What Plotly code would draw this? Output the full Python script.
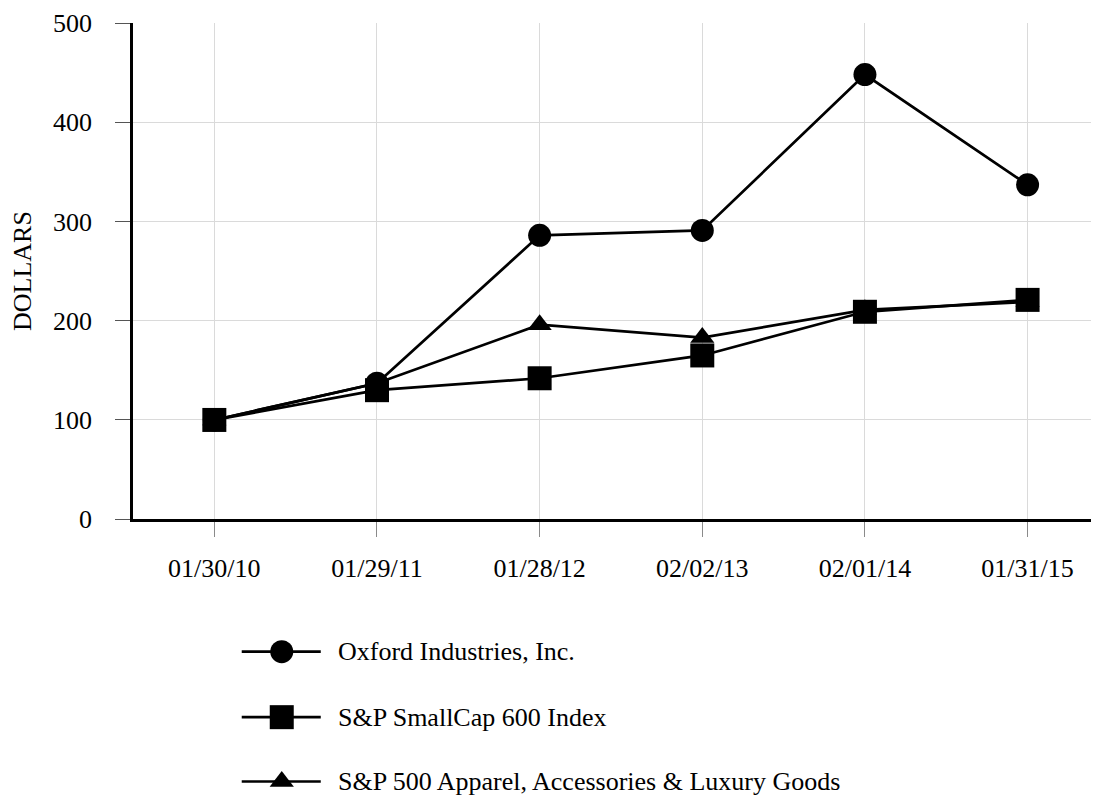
import plotly.graph_objects as go

dates = ["01/30/10", "01/29/11", "01/28/12", "02/02/13", "02/01/14", "01/31/15"]
oxford = [100, 137, 286, 291, 448, 337]
smallcap = [100, 130, 142, 165, 209, 221]
apparel = [100, 137, 196, 183, 211, 219]
series_names = ["Oxford Industries, Inc.", "S&P SmallCap 600 Index",
                "S&P 500 Apparel, Accessories & Luxury Goods"]
y_ticks = [0, 100, 200, 300, 400, 500]

# page body has an 8px default margin
OFF = 8
W, H = 1099 - OFF, 797 - OFF
ML, MT = 133.3 - OFF, 23.3 - OFF
PLOT_BOTTOM = 519.3 - OFF
FONT = "Liberation Serif"

symbols = {series_names[0]: ("circle", 23),
           series_names[1]: ("square", 24),
           series_names[2]: ("triangle-up", 21)}
values = {series_names[0]: oxford, series_names[1]: smallcap, series_names[2]: apparel}

fig = go.Figure()
# draw order: Oxford, Apparel, SmallCap (on top)
for name in [series_names[0], series_names[2], series_names[1]]:
    sym, size = symbols[name]
    fig.add_trace(go.Scatter(
        x=dates, y=values[name], mode="lines+markers", name=name,
        line=dict(color="black", width=2.7),
        marker=dict(symbol=sym, size=size, color="black"),
        showlegend=False, cliponaxis=False,
    ))

# custom legend on a hidden helper axis (pixel-like units)
row_px = [651.7 - OFF, 717.2 - OFF, 781.5 - OFF]
line_x = [242 - OFF, 321 - OFF]
mark_x = 282 - OFF
text_x = 336 - OFF
for i, name in enumerate(series_names):
    sym, size = symbols[name]
    fig.add_trace(go.Scatter(
        x=line_x, y=[row_px[i]] * 2, mode="lines", xaxis="x2", yaxis="y2",
        line=dict(color="black", width=2.7), showlegend=False, hoverinfo="skip",
        cliponaxis=False))
    fig.add_trace(go.Scatter(
        x=[mark_x], y=[row_px[i]], mode="markers", xaxis="x2", yaxis="y2",
        marker=dict(symbol=sym, size=size, color="black"),
        showlegend=False, hoverinfo="skip", cliponaxis=False))
    fig.add_annotation(x=text_x, y=row_px[i], xref="x2", yref="y2", text=name,
                       showarrow=False, xanchor="left", yanchor="middle",
                       font=dict(family=FONT, size=26, color="black"))

plot_h = H - MT
main_bottom = (H - PLOT_BOTTOM) / plot_h

span_px = W - ML
step_x = 162.6
x_right = -0.5 + span_px / step_x

fig.update_layout(
    width=W, height=H, autosize=False,
    margin=dict(l=ML, r=0, t=MT, b=0, pad=0, autoexpand=False),
    paper_bgcolor="white", plot_bgcolor="white",
    font=dict(family=FONT, size=26, color="black"),
    xaxis=dict(
        type="category", categoryorder="array", categoryarray=dates,
        range=[-0.5, x_right], showgrid=True, gridcolor="#dadada", gridwidth=1,
        showline=True, linecolor="black", linewidth=2.7,
        ticks="outside", ticklen=15, tickcolor="#8a8a8a", tickwidth=1,
        ticklabelstandoff=9, tickfont=dict(family=FONT, size=26, color="black"),
        zeroline=False, domain=[0, 1], anchor="y", automargin=False,
    ),
    yaxis=dict(
        range=[0, 500], tickvals=y_ticks, showgrid=True, gridcolor="#dadada",
        gridwidth=1, showline=True, linecolor="black", linewidth=2.7,
        ticks="outside", ticklen=15, tickcolor="#555555", tickwidth=1,
        ticklabelstandoff=18, tickfont=dict(family=FONT, size=26, color="black"),
        zeroline=False, domain=[main_bottom, 1], anchor="x", automargin=False,
        title=dict(text="DOLLARS", standoff=17, font=dict(family=FONT, size=26, color="black")),
    ),
    # helper axis for the key: units equal figure pixels
    xaxis2=dict(range=[ML, W], domain=[0, 1], visible=False, anchor="y2",
                fixedrange=True, automargin=False),
    yaxis2=dict(range=[H, PLOT_BOTTOM], domain=[0, main_bottom], visible=False,
                anchor="x2", fixedrange=True, automargin=False),
)

fig.write_html("out.html")
